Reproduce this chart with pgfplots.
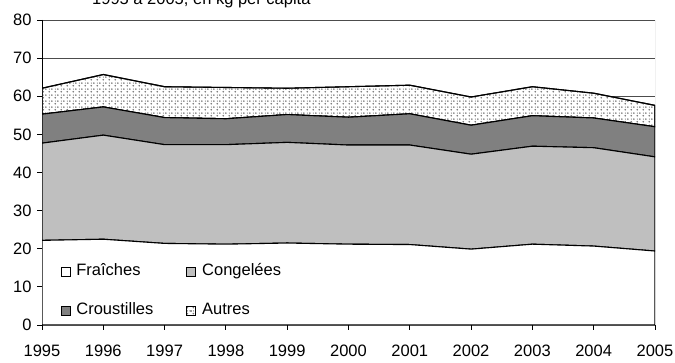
\documentclass[border=0pt]{standalone}
\usepackage{fontspec}
\setmainfont{Liberation Sans}
\usepackage{pgfplots}
\usepackage{pgfplotstable}
\pgfplotsset{compat=1.18}
\usetikzlibrary{patterns.meta}

% dotted fill for the "Autres" band: grey flecks with small black dots
\tikzdeclarepattern{
  name=potdots,
  type=colored,
  bounding box={(0bp,0bp) and (6bp,6bp)},
  tile size={(6bp,6bp)},
  code={
    \fill[black!55] (1.5bp,1.5bp) circle (1bp);
    \fill[black!55] (4.5bp,4.5bp) circle (1bp);
    \fill[black] (1.5bp,4.5bp) circle (0.5bp);
  }
}

% kg per capita, by product type
\pgfplotstableread{
year fr   co   cr  au
1995 22.2 25.5 7.6 6.8
1996 22.5 27.3 7.4 8.5
1997 21.4 25.9 7.1 8.1
1998 21.2 26.1 6.8 8.2
1999 21.5 26.4 7.3 6.9
2000 21.2 26.0 7.3 8.0
2001 21.1 26.1 8.2 7.5
2002 19.9 24.9 7.6 7.4
2003 21.2 25.7 8.0 7.6
2004 20.7 25.8 7.8 6.5
2005 19.4 24.7 7.9 5.6
}\conso

\newcommand{\chartfont}{\fontsize{16.5bp}{19bp}\selectfont}

\begin{document}
\begin{tikzpicture}
\begin{axis}[
  at={(42bp,38bp)}, anchor=south west,
  scale only axis, width=613bp, height=305bp,
  xmin=1995, xmax=2005, ymin=0, ymax=80,
  xtick={1995,...,2005}, ytick={0,10,...,80},
  /pgf/number format/1000 sep={},
  /pgf/number format/assume math mode=true,
  tick label style={font=\chartfont},
  xticklabel style={yshift=-11bp},
  yticklabel style={xshift=-2bp},
  tick pos=left, tick align=outside,
  major tick length=5bp,
  every tick/.style={black, line width=0.8bp},
  axis line style={draw=none},
  ymajorgrids,
  major grid style={draw=black!70, line width=0.8bp},
  stack plots=y,
  legend columns=2,
  legend cell align=left,
  legend style={draw=none, fill=none, font=\chartfont,
    at={(rel axis cs:0.025,0.215)}, anchor=north west,
    nodes={text height=12bp, text depth=4bp},
    /tikz/every even column/.append style={column sep=31bp},
    /tikz/row sep=19bp},
  legend image code/.code={
    \draw[#1, line width=0.6bp] (0bp,-4.5bp) rectangle (9bp,4.5bp);
    \path (13bp,0bp);},
]
\addplot[draw=black, line width=1.1bp, fill=white] table[x=year, y=fr]{\conso} \closedcycle;
\addlegendentry{Fraîches}
\addplot[draw=black, line width=1.1bp, fill=black!25] table[x=year, y=co]{\conso} \closedcycle;
\addlegendentry{Congelées}
\addplot[draw=black, line width=1.1bp, fill=black!50] table[x=year, y=cr]{\conso} \closedcycle;
\addlegendentry{Croustilles}
\addplot[draw=black, line width=1.1bp, fill=white,
  postaction={pattern=potdots}] table[x=year, y=au]{\conso} \closedcycle;
\addlegendentry{Autres}
% frame: light right edge, black left and bottom axes
\draw[black!45, line width=0.8bp] (rel axis cs:1,0) -- (rel axis cs:1,1);
\draw[black, line width=0.9bp] (rel axis cs:0,1) -- (rel axis cs:0,0) -- (rel axis cs:1,0);
\end{axis}
\node[anchor=base west, font=\chartfont, inner sep=0pt] at (92bp,358bp) {1995 à 2005, en kg per capita};
\pgfresetboundingbox
\useasboundingbox (0,0) rectangle (675bp,363bp);
\end{tikzpicture}
\end{document}
